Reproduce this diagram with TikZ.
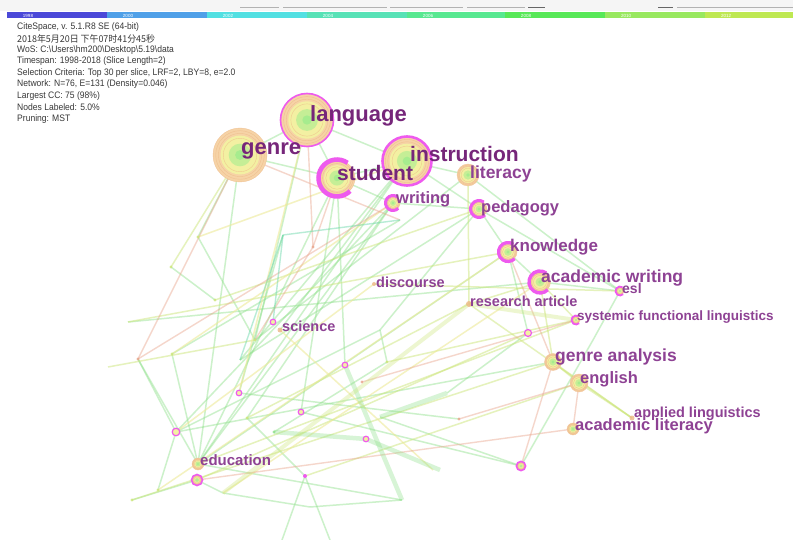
\documentclass[tikz,border=0pt]{standalone}
\usepackage{fontspec}
\setmainfont{Liberation Sans}
\newfontfamily\hdrfont[FakeStretch=0.91]{Liberation Sans}
\newfontfamily\cjk[FakeStretch=0.95]{Noto Sans CJK SC}
\usetikzlibrary{positioning}
\definecolor{lab}{HTML}{76267A}
\definecolor{labl}{HTML}{8E4294}
\definecolor{mag}{HTML}{EE5AEE}
\definecolor{ringo}{HTML}{F6D3A6}
\definecolor{ringl}{HTML}{EDB886}
\definecolor{ringy}{HTML}{F3F0A2}
\definecolor{ringg}{HTML}{A6EC8E}
\definecolor{egreen}{HTML}{8EE08A}
\definecolor{eyel}{HTML}{CDE67A}
\definecolor{epale}{HTML}{EDEA98}
\definecolor{eora}{HTML}{E9A58C}
\definecolor{eteal}{HTML}{62D6A6}
\definecolor{hdr}{HTML}{383838}
\definecolor{tA}{HTML}{4B49D8}
\definecolor{tB}{HTML}{4FA0E8}
\definecolor{tC}{HTML}{52E0E2}
\definecolor{tD}{HTML}{57E2B6}
\definecolor{tE}{HTML}{57E890}
\definecolor{tF}{HTML}{57E857}
\definecolor{tG}{HTML}{98E85F}
\definecolor{tH}{HTML}{BEE852}
\tikzset{
    % keyword labels
    kw/.style={anchor=west, inner sep=0pt, text=lab,
           font=\fontsize{#1}{#1}\selectfont\bfseries},
    kwl/.style={kw=#1, text=labl},
    % header lines
    hline/.style={anchor=west, inner sep=0pt, text=hdr,
           font=\hdrfont\fontsize{9.4}{9.4}\selectfont},
    yrlab/.style={inner sep=0pt, text=white, font=\fontsize{4.5}{4.5}\selectfont},
    % edges
    eg/.style={draw=egreen, line width=1.5pt, opacity=0.45},
    ey/.style={draw=eyel, line width=1.5pt, opacity=0.5},
    ep/.style={draw=epale, line width=1.5pt, opacity=0.6},
    eo/.style={draw=eora, line width=1.4pt, opacity=0.45},
    et/.style={draw=eteal, line width=1.4pt, opacity=0.45},
    ek/.style={draw=egreen, line width=4.5pt, opacity=0.35},
    eyk/.style={draw=eyel, line width=4pt, opacity=0.35},
    dot/.style={fill=#1, opacity=0.8},
}
% tree rings of a keyword
\newcommand{\treerings}[2]{%
  \fill[ringo] (#1) circle ({#2*1pt});
  \fill[ringy] (#1) circle ({0.72*#2*1pt});
  \fill[ringg!60!ringy] (#1) circle ({0.42*#2*1pt});
  \fill[ringg] (#1) circle ({0.18*#2*1pt});
  \foreach \f in {0.62,0.8,0.9,1}
    \draw[ringl, line width=0.4pt, opacity=0.7] (#1) circle ({\f*#2*1pt});
}
% centrality ring, open to the right
\newcommand{\crescent}[3]{%
  \draw[mag, line width=#3pt] (#1) ++(55:{#2*1pt}) arc (55:315:{#2*1pt});
}
\newcommand{\magring}[3]{%
  \draw[mag, line width=#3pt] (#1) circle ({#2*1pt});
}

\begin{document}
\begin{tikzpicture}[x=1pt, y=-1pt]
\useasboundingbox (0,0) rectangle (793,540);
\fill[white] (0,0) rectangle (793,540);
\fill[gray!8] (0,0) rectangle (793,11);
\foreach \xa/\xb in {240/279, 283/387, 390/463, 467/525, 677/793}
  \draw[gray!60, line width=0.7pt] (\xa,7.5) -- (\xb,7.5);
\foreach \xa/\xb in {528/545, 658/673}
  \draw[gray!80!black, line width=1.4pt] (\xa,7.5) -- (\xb,7.5);

% time slices
\foreach \xa/\xb/\yr/\col in {7/107/1998/tA, 107/207/2000/tB, 207/307/2002/tC,
    307/407/2004/tD, 407/505/2006/tE, 505/605/2008/tF, 605/705/2010/tG, 705/793/2012/tH}{
  \fill[\col] (\xa,12.5) rectangle (\xb,18.5);
  \node[yrlab] at (\xa+21,15.5) {\yr};
}

% header
\node[hline] (h1) at (17,27) {CiteSpace, v. 5.1.R8 SE (64-bit)};
\node[hline] (h2) at (17,38.5) {\cjk 2018年5月20日 下午07时41分45秒};
\node[hline] (h3) at (17,50) {WoS: C:\textbackslash Users\textbackslash hm200\textbackslash Desktop\textbackslash 5.19\textbackslash data};
\node[hline] (h4) at (17,61.5) {Timespan: 1998-2018 (Slice Length=2)};
\node[hline] (h5) at (17,73) {Selection Criteria: Top 30 per slice, LRF=2, LBY=8, e=2.0};
\node[hline] (h6) at (17,84.5) {Network: N=76, E=131 (Density=0.046)};
\node[hline] (h7) at (17,96) {Largest CC: 75 (98\%)};
\node[hline] (h8) at (17,107.5) {Nodes Labeled: 5.0\%};
\node[hline] (h9) at (17,119) {Pruning: MST};

% keyword positions
\coordinate (lang) at (307,120);
\coordinate (gen) at (240,155);
\coordinate (instr) at (407,161);
\coordinate (stud) at (337,178);
\coordinate (lit) at (468,175);
\coordinate (writ) at (393,203);
\coordinate (ped) at (479,209);
\coordinate (know) at (508,252);
\coordinate (acw) at (540,282);
\coordinate (esl) at (620,291);
\coordinate (disc) at (374,284);
\coordinate (resart) at (469,304);
\coordinate (sfl) at (576,320);
\coordinate (sci) at (280,330);
\coordinate (scim) at (273,322);
\coordinate (genan) at (553,362);
\coordinate (eng) at (579,383);
\coordinate (appl) at (632,418);
\coordinate (acl) at (573,429);
\coordinate (edu) at (198,464);
% unlabelled keywords
\coordinate (m1) at (197,480);
\coordinate (m2) at (176,432);
\coordinate (m3) at (239,393);
\coordinate (m4) at (301,412);
\coordinate (m5) at (345,365);
\coordinate (m6) at (366,439);
\coordinate (m7) at (521,466);
\coordinate (m8) at (528,333);
\coordinate (m9) at (305,476);
\coordinate (p1) at (138,359);
\coordinate (p2) at (172,354);
\coordinate (p3) at (171,267);
\coordinate (p4) at (198,237);
\coordinate (p5) at (313,247);
\coordinate (p6) at (247,418);
\coordinate (p7) at (274,432);
\coordinate (p8) at (362,382);
\coordinate (p9) at (387,362);
\coordinate (p10) at (132,500);
\coordinate (p11) at (128,322);
\coordinate (p12) at (459,419);
\coordinate (p13) at (108,367);
\coordinate (p14) at (158,490);
\coordinate (p15) at (223,493);
\coordinate (p16) at (310,507);
\coordinate (p17) at (282,540);
\coordinate (p18) at (330,540);
\coordinate (p19) at (402,500);
\coordinate (p20) at (283,235);
\coordinate (p21) at (400,220);
\coordinate (p22) at (440,470);
\coordinate (p24) at (240,360);
\coordinate (p25) at (593,340);
\coordinate (p26) at (380,330);
\coordinate (p27) at (447,393);
\coordinate (p29) at (215,300);
\coordinate (p30) at (255,340);
\coordinate (p31) at (433,470);
\coordinate (p32) at (380,417);

% links
\foreach \a/\b in {gen/stud, gen/lang, lang/stud, lang/instr, stud/instr, instr/lit,
    instr/ped, stud/writ, writ/ped, ped/know, know/acw, acw/esl, ped/esl, lit/esl,
    gen/edu, stud/edu, writ/edu, instr/p24, p3/p29, p11/acw, edu/know, edu/p2, p1/edu,
    m2/genan, esl/p25, p25/m7, m4/m7, writ/m2, ped/p26, p26/p9, m9/p17, m9/p18,
    p15/p16, p16/p19, m1/p15, edu/instr, m2/p1, p10/m1, p14/m2, gen/p4, p4/p30,
    sci/instr, m8/know, m8/p27, m3/p20, p6/writ, m5/stud, p30/lit, m2/p26, p6/m9,
    p7/p9, p24/ped, p32/m7, m3/p12, p2/p21, lang/p30, edu/p19, stud/m4}
  \draw[eg] (\a) -- (\b);
\foreach \a/\b in {disc/esl, resart/acw, acw/sfl, genan/appl, eng/appl, resart/appl,
    genan/eng, acw/genan, p9/sfl, gen/p3, know/p11, p13/p30, p10/genan, p29/ped,
    m1/m8, lit/resart, p6/resart, edu/sfl, m9/eng}
  \draw[ey] (\a) -- (\b);
\foreach \a/\b in {p4/instr, p2/writ, m2/disc, p14/know, lang/m3, p15/acw, sci/p31}
  \draw[ep] (\a) -- (\b);
\foreach \a/\b in {gen/p1, p1/writ, know/genan, eng/acl, m1/acl, p12/eng, stud/p5,
    p5/p30, lang/p5, p8/sfl, gen/p21, m7/genan}
  \draw[eo] (\a) -- (\b);
\foreach \a/\b in {p20/p24, p20/p21, scim/p20}
  \draw[et] (\a) -- (\b);
\foreach \a/\b in {m5/p19, p7/m6, m6/p22, p27/p32}
  \draw[ek] (\a) -- (\b);
\foreach \a/\b in {p15/resart, resart/sfl}
  \draw[eyk] (\a) -- (\b);

% small points
\foreach \p/\c in {p1/eora, p2/eyel, p3/eyel, p4/eyel, p5/eora, p6/eyel, p7/egreen,
    p8/eora, p9/eyel, p10/eyel, p12/eora, p14/eyel, p29/eyel, p30/eyel}
  \fill[dot=\c] (\p) circle (1.6pt);
\fill[dot=ringl] (disc) circle (2pt);
\fill[dot=ringl] (resart) circle (3pt);
\fill[dot=ringl] (sci) circle (2.5pt);
\fill[dot=ringl] (appl) circle (2.5pt);
\fill[mag] (m9) circle (2pt);
\foreach \p/\r in {scim/2.8, m2/3.8, m3/2.8, m4/2.8, m5/2.8, m6/2.8, m8/3.5} {
  \fill[ringy] (\p) circle ({\r*1pt});
  \magring{\p}{\r}{1.2}
}
\treerings{m1}{5}
\magring{m1}{5.5}{1.6}
\treerings{m7}{4.2}
\magring{m7}{4.6}{1.6}

% keyword circles
\treerings{gen}{27}
\treerings{lang}{26}
\magring{lang}{26.5}{1.6}
\treerings{instr}{24}
\magring{instr}{24.5}{2.6}
\treerings{stud}{18}
\crescent{stud}{18.5}{4.5}
\treerings{lit}{11}
\treerings{writ}{7}
\crescent{writ}{7.5}{3}
\treerings{ped}{8}
\crescent{ped}{8.5}{3}
\treerings{know}{9}
\crescent{know}{9.5}{3.2}
\treerings{acw}{10.5}
\crescent{acw}{11}{3.4}
\treerings{esl}{4}
\crescent{esl}{4.5}{1.8}
\treerings{sfl}{4}
\crescent{sfl}{4.5}{1.8}
\treerings{genan}{8.5}
\treerings{eng}{9}
\treerings{acl}{6}
\treerings{edu}{6}

% keyword labels
\node[kw=22] (langL) at (310,116) {language};
\node[kw=22] (genL) at (241,151) {genre};
\node[kw=21] (instrL) at (410,154) {instruction};
\node[kw=21] (studL) at (337,173) {student};
\node[kwl=17.5] (litL) at (470,174) {literacy};
\node[kwl=16.5] (writL) at (396,199) {writing};
\node[kwl=16.5] (pedL) at (481,208) {pedagogy};
\node[kwl=17] (knowL) at (510,247) {knowledge};
\node[kwl=17.5] (acwL) at (541,278) {academic writing};
\node[kwl=14] (eslL) at (622,288) {esl};
\node[kwl=14.5] (discL) at (376,282) {discourse};
\node[kwl=14.5] (resartL) at (470,301) {research article};
\node[kwl=13.5] (sflL) at (577,317) {systemic functional linguistics};
\node[kwl=14.5] (sciL) at (282,326) {science};
\node[kwl=17.5] (genanL) at (555,357) {genre analysis};
\node[kwl=16.5] (engL) at (580,379) {english};
\node[kwl=16.5] (aclL) at (575,426) {academic literacy};
\node[kwl=14.5] (applL) at (634,414) {applied linguistics};
\node[kwl=15] (eduL) at (200,460) {education};
\end{tikzpicture}
\end{document}
